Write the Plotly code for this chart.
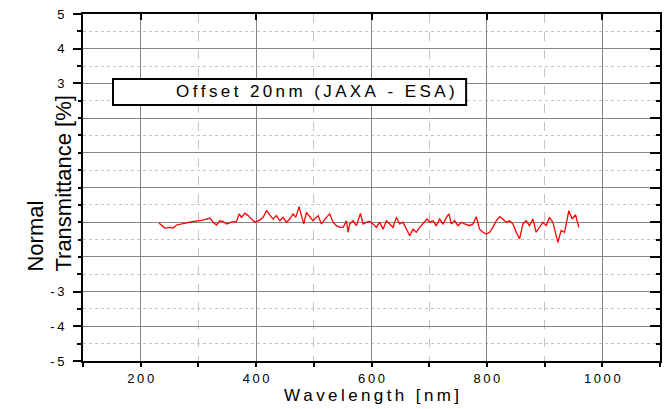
import plotly.graph_objects as go

wavelength = [231.6, 236.2, 242.0, 250.6, 256.4, 262.2, 270.8, 279.5, 291.0, 299.7, 308.3, 319.9,
              325.6, 331.4, 337.2, 343.0, 348.7, 357.4, 366.0, 370.6, 374.7, 380.5, 386.2, 392.0,
              397.8, 406.4, 412.2, 418.0, 423.7, 429.5, 435.3, 441.0, 446.8, 452.6, 458.4, 464.1,
              468.7, 474.5, 478.5, 482.6, 487.2, 493.0, 498.7, 507.4, 513.2, 521.8, 527.6, 533.4,
              539.1, 544.9, 550.8, 556.6, 559.4, 562.3, 568.1, 573.9, 580.8, 585.4, 591.2, 597.0,
              602.7, 608.5, 614.3, 620.0, 625.8, 631.6, 637.3, 643.1, 648.9, 654.6, 661.6, 666.2,
              672.0, 677.7, 683.5, 689.3, 696.2, 700.8, 706.6, 712.3, 718.1, 723.9, 729.7, 734.3,
              738.3, 744.1, 749.8, 755.6, 761.4, 770.0, 775.8, 781.6, 787.4, 793.1, 798.9, 804.7,
              810.4, 816.2, 822.0, 827.7, 833.5, 839.3, 845.1, 850.8, 856.6, 862.4, 868.1, 873.9,
              879.7, 885.4, 891.2, 897.0, 902.8, 908.5, 914.3, 923.0, 928.7, 934.5, 942.0, 947.8,
              953.5, 959.3]
transmittance = [-1.02, -1.10, -1.17, -1.15, -1.17, -1.08, -1.05, -1.00, -0.98, -0.96, -0.94, -0.88,
                 -1.00, -1.08, -0.96, -0.98, -1.05, -1.00, -0.98, -0.76, -0.86, -0.74, -0.81, -0.91,
                 -1.00, -0.94, -0.86, -0.67, -0.78, -0.91, -0.81, -0.96, -0.86, -1.00, -0.91, -0.76,
                 -0.86, -0.55, -0.81, -1.05, -0.72, -0.86, -0.96, -0.81, -1.05, -0.86, -0.76, -1.00,
                 -1.10, -1.15, -1.15, -0.96, -1.29, -1.05, -0.96, -1.10, -0.75, -1.05, -1.00, -0.98,
                 -1.05, -1.15, -1.00, -1.20, -0.96, -1.05, -1.15, -0.86, -1.05, -1.00, -1.24, -1.39,
                 -1.20, -1.29, -1.15, -1.05, -0.91, -1.00, -0.96, -1.10, -0.91, -1.05, -0.86, -0.76,
                 -1.05, -0.96, -1.10, -1.00, -1.05, -1.10, -1.05, -0.84, -1.20, -1.29, -1.34, -1.29,
                 -1.15, -0.96, -0.84, -0.91, -1.00, -0.96, -1.05, -1.29, -1.48, -1.05, -0.96, -1.10,
                 -0.91, -1.29, -1.15, -1.00, -1.10, -0.86, -1.00, -1.58, -1.24, -1.29, -0.67, -0.91,
                 -0.78, -1.15]

x_ticks = [200, 400, 600, 800, 1000]
y_ticks = [5, 4, 3, 2, 1, 0, -1, -2, -3, -4, -5]

legend_text = "Offset 20nm (JAXA - ESA)"
x_title = "Wavelength [nm]"
y_title_lines = ["Normal", "Transmittance [%]"]

TS = "\u2009"


def spaced(s):
    # letter-spaced look: thin space between glyphs, non-breaking space for word gaps
    words = s.split(" ")
    return (TS + "\u00a0" + TS).join(TS.join(list(w)) for w in words)


FONT = "Liberation Sans, Arial, sans-serif"

fig = go.Figure()
fig.add_trace(go.Scatter(x=wavelength, y=transmittance, mode="lines",
                         line=dict(color="#ff0000", width=1.3), showlegend=False))
# invisible trace to hold the mirrored (top/right) axes
fig.add_trace(go.Scatter(x=[wavelength[0]], y=[transmittance[0]], xaxis="x2", yaxis="y2",
                         mode="markers", marker=dict(opacity=0), showlegend=False, hoverinfo="skip"))

fig.update_layout(
    width=665, height=409,
    margin=dict(l=83, r=5, t=14, b=48),
    plot_bgcolor="white", paper_bgcolor="white",
    font=dict(family=FONT, color="black"),
    xaxis=dict(
        range=[100, 1100], tickmode="array", tickvals=x_ticks,
        ticktext=[spaced(str(v)) for v in x_ticks],
        tickfont=dict(size=13), ticks="outside", ticklen=4, tickwidth=2, tickcolor="black",
        showline=True, linecolor="black", linewidth=2,
        showgrid=True, gridcolor="#858585", gridwidth=1.3,
        zeroline=False,
        minor=dict(tickmode="linear", tick0=100, dtick=100, ticks="outside", ticklen=4,
                   tickwidth=2, tickcolor="black", showgrid=True, gridcolor="#c4c4c4",
                   griddash="dash", gridwidth=1),
        title=dict(text=spaced(x_title), font=dict(size=17), standoff=5),
    ),
    yaxis=dict(
        range=[-5, 5], tickmode="array", tickvals=y_ticks,
        ticktext=[spaced(str(v)) for v in y_ticks],
        tickfont=dict(size=13), ticks="outside", ticklen=8, tickwidth=2, tickcolor="black",
        ticklabelstandoff=6,
        showline=True, linecolor="black", linewidth=2,
        showgrid=True, gridcolor="#858585", gridwidth=1.3,
        zeroline=False,
        minor=dict(tickmode="linear", tick0=-5, dtick=0.5, ticks="outside", ticklen=4,
                   tickwidth=2, tickcolor="black", showgrid=True, gridcolor="#c4c4c4",
                   griddash="dot", gridwidth=1.3),
    ),
    xaxis2=dict(range=[100, 1100], overlaying="x", side="top", anchor="y2",
                tickmode="array", tickvals=x_ticks, showticklabels=False,
                ticks="inside", ticklen=6, tickwidth=2, tickcolor="black",
                showline=True, linecolor="black", linewidth=2, showgrid=False, zeroline=False),
    yaxis2=dict(range=[-5, 5], overlaying="y", side="right", anchor="x2",
                tickmode="array", tickvals=y_ticks, showticklabels=False,
                ticks="inside", ticklen=10, tickwidth=2, tickcolor="black",
                minor=dict(tickmode="linear", tick0=-5, dtick=0.5, ticks="inside", ticklen=4,
                           tickwidth=2, tickcolor="black"),
                showline=True, linecolor="black", linewidth=2, showgrid=False, zeroline=False),
)

# legend-like box
fig.add_shape(type="rect", xref="paper", yref="paper", x0=0.052, x1=0.664, y0=0.738, y1=0.813,
              line=dict(color="black", width=2), fillcolor="white", layer="above")
fig.add_annotation(xref="paper", yref="paper", x=0.648, y=0.7755, xanchor="right", yanchor="middle",
                   text=spaced(legend_text), showarrow=False,
                   font=dict(size=17, family=FONT, color="black"))

# y-axis title (two lines, rotated)
fig.add_annotation(xref="paper", yref="paper", x=-0.058, y=0.51, xanchor="center", yanchor="middle",
                   text="<br>".join(y_title_lines), textangle=-90, align="left", showarrow=False,
                   bgcolor="white", borderpad=1,
                   font=dict(size=22, family=FONT, color="black"))

fig.write_html("out.html")
